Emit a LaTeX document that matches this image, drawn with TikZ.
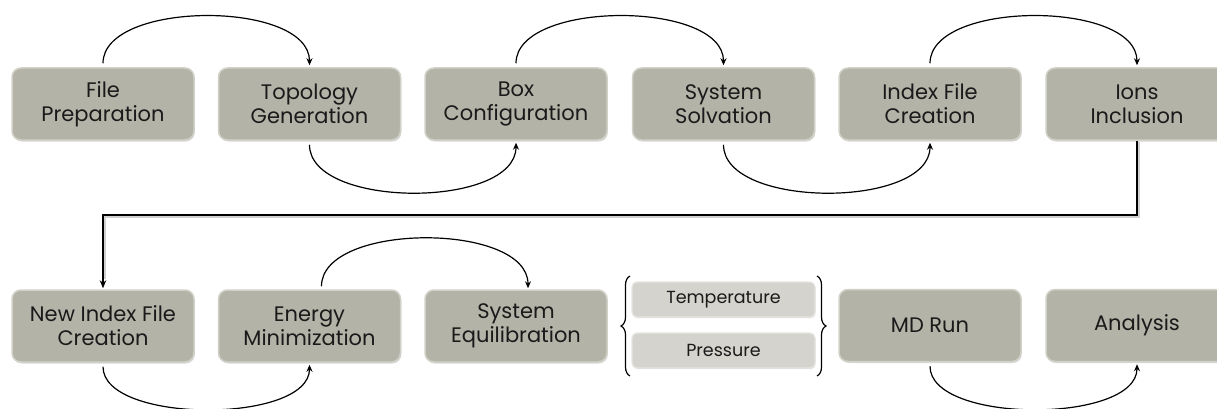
\documentclass[tikz,border=0pt]{standalone}
\usepackage{fontspec}
\setmainfont{Poppins}
\usetikzlibrary{arrows.meta,shadows,decorations.pathreplacing}
\definecolor{boxfill}{HTML}{B4B3A8}
\definecolor{boxline}{HTML}{D2D1C8}
\definecolor{subfill}{HTML}{D4D3CD}
\definecolor{subline}{HTML}{E6E5E0}
\definecolor{txt}{HTML}{1A1A1A}
\begin{document}
\begin{tikzpicture}[x=1pt,y=-1pt,
  stepbox/.style={rectangle, rounded corners=9pt, fill=boxfill, draw=boxline, line width=1.5pt,
    minimum width=182pt, minimum height=72pt, align=center, text=txt,
    font=\fontsize{21}{24}\selectfont,
    drop shadow={opacity=0.3, shadow xshift=0.8pt, shadow yshift=-1.5pt}},
  subbox/.style={rectangle, rounded corners=5pt, fill=subfill, draw=subline, line width=1.2pt,
    minimum width=183pt, minimum height=35pt, text=txt,
    font=\fontsize{17.5}{20}\selectfont,
    drop shadow={opacity=0.25, shadow xshift=0.6pt, shadow yshift=-1.2pt}},
  flow/.style={line width=1.2pt, -{Stealth[length=7pt,width=6pt]}},
  bracestyle/.style={line width=1.2pt, decorate, decoration={brace, amplitude=9pt}}
]
\useasboundingbox (0,0) rectangle (1217,409);
\clip (0,0) rectangle (1217,409);
\fill[white] (0,0) rectangle (1217,409);

% top row
\node[stepbox] (b1) at (103,104) {File\\Preparation};
\node[stepbox] (b2) at (309.5,104) {Topology\\Generation};
\node[stepbox] (b3) at (516,104) {Box\\Configuration};
\node[stepbox] (b4) at (723.5,104) {System\\Solvation};
\node[stepbox] (b5) at (930,104) {Index File\\Creation};
\node[stepbox] (b6) at (1137,104) {Ions\\Inclusion};

% bottom row
\node[stepbox] (c1) at (103,326) {New Index File\\Creation};
\node[stepbox] (c2) at (309.5,326) {Energy\\Minimization};
\node[stepbox] (c3) at (516,326) {System\\Equilibration};
\node[subbox] (t) at (723.5,299.5) {Temperature};
\node[subbox] (p) at (723.5,350.5) {Pressure};
\node[stepbox] (c4) at (930,325.5) {MD Run};
\node[stepbox] (c5) at (1137,325.5) {Analysis};

% braces
\coordinate (lb1) at (630,376);
\coordinate (lb2) at (630,276);
\coordinate (rb1) at (817,276);
\coordinate (rb2) at (817,376);
\draw[bracestyle] (lb1) -- (lb2);
\draw[bracestyle] (rb1) -- (rb2);

% arcs top row
\draw[flow] ([yshift=4pt]b1.north) .. controls (103,0) and (309.5,0) .. ([yshift=2pt]b2.north);
\draw[flow] ([yshift=-4pt]b2.south) .. controls (309.5,209) and (516,209) .. ([yshift=-2pt]b3.south);
\draw[flow] ([yshift=4pt]b3.north) .. controls (516,0) and (723.5,0) .. ([yshift=2pt]b4.north);
\draw[flow] ([yshift=-4pt]b4.south) .. controls (723.5,209) and (930,209) .. ([yshift=-2pt]b5.south);
\draw[flow] ([yshift=4pt]b5.north) .. controls (930,0) and (1137,0) .. ([yshift=2pt]b6.north);

% arcs bottom row
\draw[flow] ([yshift=-4pt]c1.south) .. controls (103,424) and (309.5,424) .. ([yshift=-2pt]c2.south);
\draw[flow] ([xshift=12pt,yshift=3pt]c2.north) .. controls (321.5,222) and (528,222) .. ([xshift=12pt,yshift=1pt]c3.north);
\draw[flow] ([yshift=-4pt]c4.south) .. controls (930,424) and (1137,424) .. ([yshift=-2pt]c5.south);

% connector row 1 -> row 2
\coordinate (k1) at (1137,215);
\coordinate (k2) at (103,215);
\draw[line width=3pt, black!18, line join=miter, transform canvas={xshift=1pt,yshift=-1.5pt}]
  (b6.south) -- (k1) -- (k2) -- ([yshift=12pt]c1.north);
\draw[line width=1.6pt, line join=miter, -{Stealth[length=8pt,width=6.5pt]}]
  (b6.south) -- (k1) -- (k2) -- ([yshift=1pt]c1.north);
\end{tikzpicture}
\end{document}
